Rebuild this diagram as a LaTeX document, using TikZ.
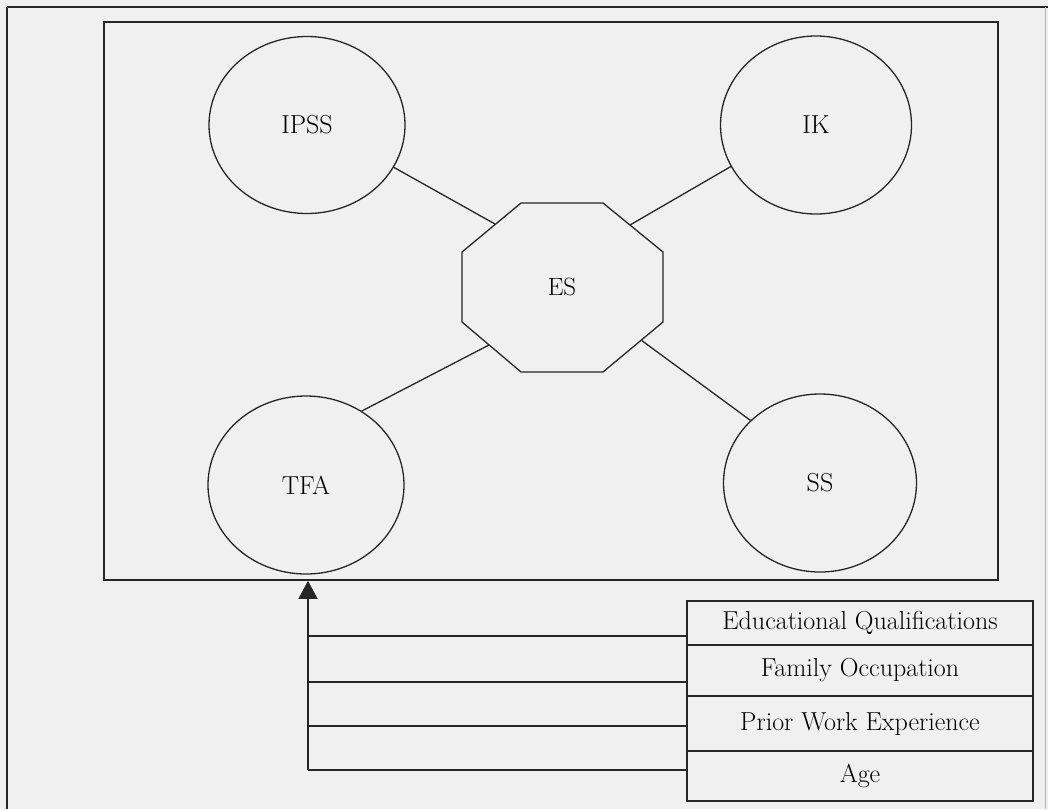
\documentclass[tikz,border=0pt]{standalone}
\usepackage{fontspec}
\usetikzlibrary{shapes.geometric,arrows.meta}
\begin{document}
\begin{tikzpicture}[x=1pt,y=-1pt,
  ln/.style={line width=1.3pt, draw=black!85},
  bubble/.style={ellipse, ln, inner sep=0pt, font=\fontsize{26}{30}\selectfont},
  octalabel/.style={rectangle, inner sep=0pt, minimum width=201pt, minimum height=169pt, font=\fontsize{25}{30}\selectfont},
  rowbox/.style={rectangle, ln, minimum width=346pt, inner sep=0pt, font=\fontsize{26}{30}\selectfont},
  link/.style={ln},
]
\fill[black!6] (0,0) rectangle (1048,809);
\useasboundingbox (0,0) rectangle (1048,809);
% outer page frame
\draw[line width=2.2pt, black!85] (7,7) -- (1048,7);
\draw[line width=1.3pt, black!85] (7,7) -- (7,809);
\draw[line width=0.6pt, black!30] (1045,7) -- (1045,809);
% inner frame
\node[rectangle, ln, line width=1.6pt, minimum width=894pt, minimum height=558pt] (frame) at (551,301) {};
% circles
\node[bubble, minimum width=196pt, minimum height=177pt] (ipss) at (307,125) {IPSS};
\node[bubble, minimum width=191pt, minimum height=178pt] (ik) at (816,125) {IK};
\node[bubble, minimum width=196pt, minimum height=178pt] (tfa) at (306,485) {TFA};
\node[bubble, minimum width=193pt, minimum height=178pt] (ss) at (820,483) {SS};
% octagon ES
\node[octalabel] (es) at (562,287) {ES};
\draw[ln] (521,203) -- (603,203) -- (663,252) -- (663,322) -- (603,372)
  -- (521,372) -- (462,322) -- (462,252) -- cycle;
\coordinate (e1) at (495,224);
\coordinate (e2) at (630,225);
\coordinate (e3) at (489,345);
\coordinate (e4) at (641,340);
% connectors
\draw[link] (ipss.-26) -- (e1);
\draw[link] (ik.-154) -- (e2);
\draw[link] (tfa.53) -- (e3);
\draw[link] (ss.138) -- (e4);
% table
\node[rowbox, minimum height=44pt] (eq) at (860,623) {Educational Qualifications};
\node[rowbox, minimum height=51pt] (fo) at (860,670.5) {Family Occupation};
\node[rowbox, minimum height=55pt] (pwe) at (860,723.5) {Prior Work Experience};
\node[rowbox, minimum height=50pt] (age) at (860,776) {Age};
% trunk
\coordinate (j1) at (308,636);
\coordinate (j2) at (308,682);
\coordinate (j3) at (308,726);
\coordinate (j4) at (308,770);
\draw[link] (eq.west |- j1) -- (j1);
\draw[link] (fo.west |- j2) -- (j2);
\draw[link] (pwe.west |- j3) -- (j3);
\draw[link] (age.west |- j4) -- (j4);
\draw[link, -{Triangle[length=18pt,width=19pt]}] (j4) -- (j4 |- frame.south);
\end{tikzpicture}
\end{document}
